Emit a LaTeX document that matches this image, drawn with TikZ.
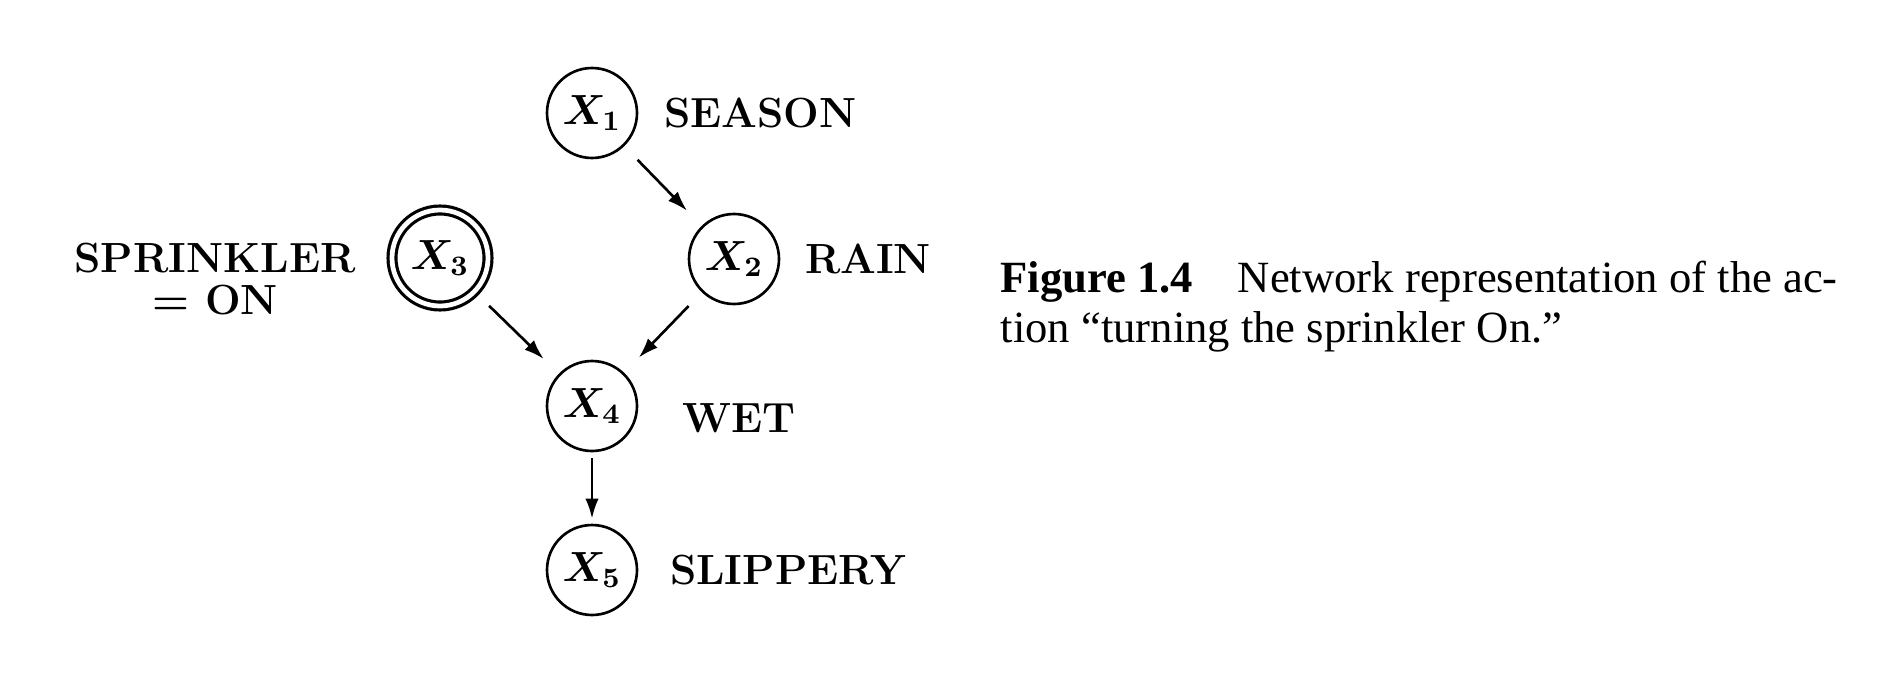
\documentclass[tikz,border=0pt]{standalone}
\usepackage{fontspec}
\newfontfamily\capfont{Liberation Serif}
\usepackage{xcolor}
\definecolor{ink}{HTML}{000000}
\usepackage{amsmath, amssymb}
\usepackage{tikz}
\usetikzlibrary{positioning, arrows.meta}
\tikzset{
    var/.style = {circle, draw=ink, line width=0.75pt, inner sep=0pt,
                  minimum size=9mm, font=\fontsize{12}{14}\selectfont\boldmath},
    fixed/.style = {var, line width=0.9pt, double=white, double distance=1.35pt,
                    minimum size=9.6mm},
    lbl/.style = {inner sep=0pt, align=center,
                  font=\fontsize{12}{12}\selectfont\bfseries},
    arrow/.style = {-{Latex[length=5.7pt, width=3.8pt]}, line width=0.75pt, color=ink,
                    shorten <=1.9mm, shorten >=2.1mm},
    caption/.style = {inner sep=0pt, align=left,
                      font=\capfont\fontsize{12.7}{14.2}\selectfont},
}

\begin{document}
\begin{tikzpicture}
        \useasboundingbox (0,0) rectangle (18.88,6.92);
        \node[var] (X1) at (5.92,5.79) {$X_1$};
        \node[var] (X2) at (7.34,4.33) {$X_2$};
        \node[fixed] (X3) at (4.40,4.34) {$X_3$};
        \node[var] (X4) at (5.92,2.86) {$X_4$};
        \node[var] (X5) at (5.92,1.22) {$X_5$};
        % labels
        \node[lbl, right=2.5mm of X1] (season) {SEASON};
        \node[lbl, right=2.4mm of X2] (rain) {RAIN};
        \node[lbl, left=3.4mm of X3, yshift=-2.1mm] (sprinkler) {SPRINKLER\\= ON};
        \node[lbl, right=4.3mm of X4, yshift=-1.2mm] (wet) {WET};
        \node[lbl, right=3.1mm of X5] (slippery) {SLIPPERY};
        \draw[arrow] (X1) -- (X2);
        \draw[arrow] (X3) -- (X4);
        \draw[arrow] (X2) -- (X4);
        \draw[arrow, shorten <=0.6mm, shorten >=0.5mm] (X4) -- (X5);
        \node[caption, anchor=north west] (cap) at (10.0,4.32)
            {\textbf{Figure 1.4}\quad Network representation of the ac-\\tion “turning the sprinkler On.”};
      \end{tikzpicture}
\end{document}
